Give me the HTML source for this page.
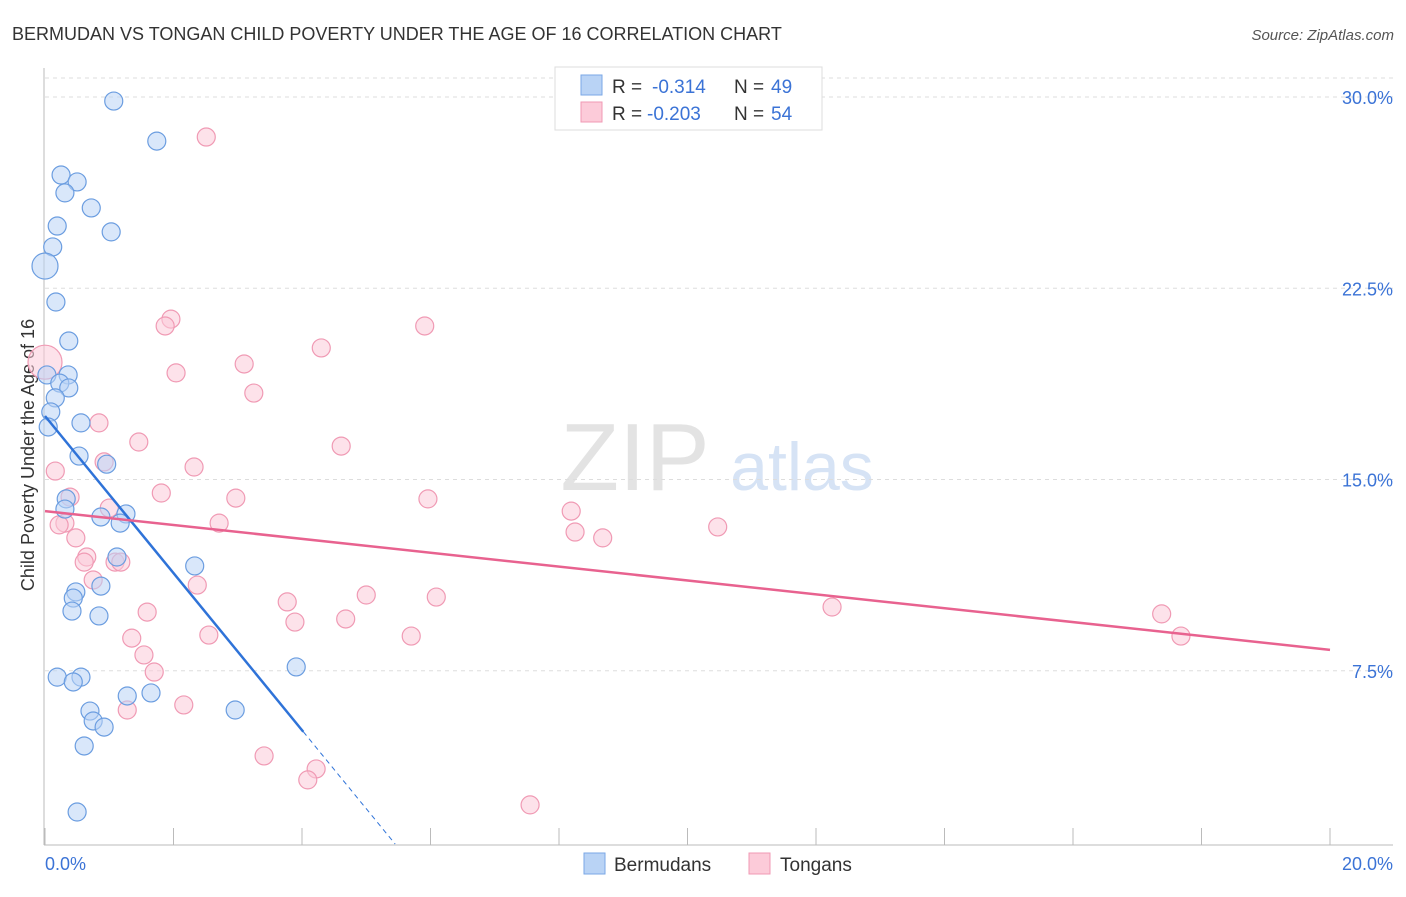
<!DOCTYPE html>
<html><head><meta charset="utf-8"><style>
body{margin:0;background:#fff;font-family:"Liberation Sans",sans-serif;}
svg text{font-family:"Liberation Sans",sans-serif;}
</style></head><body>
<svg id="chart" width="1406" height="892" xmlns="http://www.w3.org/2000/svg">
<text x="12" y="40" font-size="18" fill="#333">BERMUDAN VS TONGAN CHILD POVERTY UNDER THE AGE OF 16 CORRELATION CHART</text>
<text x="1394" y="40" font-size="15" fill="#555" text-anchor="end" font-style="italic">Source: ZipAtlas.com</text>
<text x="28" y="455" font-size="18" fill="#333" text-anchor="middle" transform="rotate(-90 28 455)" dy="6">Child Poverty Under the Age of 16</text>
<g>
<text x="635" y="490" font-size="96" fill="#e3e3e3" text-anchor="middle" font-family="Liberation Serif">ZIP</text>
<text x="802" y="490" font-size="68" fill="#d6e3f5" text-anchor="middle">atlas</text>
</g>
<g id="grid"></g>
<g id="axes"></g>
<g id="marks"></g>
<g>
<rect x="555" y="67" width="267" height="63" fill="#fff" stroke="#ddd"/>
<rect x="581" y="75" width="21" height="20" fill="#b9d3f5" stroke="#7aa7e6"/>
<rect x="581" y="102" width="21" height="20" fill="#fccbd9" stroke="#f09ab4"/>
<text x="612" y="93" font-size="19" fill="#333">R = </text><text x="652" y="93" font-size="19" fill="#3b73d6">-0.314</text>
<text x="734" y="93" font-size="19" fill="#333">N = </text><text x="771" y="93" font-size="19" fill="#3b73d6">49</text>
<text x="612" y="120" font-size="19" fill="#333">R = </text><text x="647" y="120" font-size="19" fill="#3b73d6">-0.203</text>
<text x="734" y="120" font-size="19" fill="#333">N = </text><text x="771" y="120" font-size="19" fill="#3b73d6">54</text>
</g>
<g>
<rect x="584" y="853" width="21" height="21" fill="#b9d3f5" stroke="#7aa7e6"/>
<text x="614" y="871" font-size="19" fill="#333">Bermudans</text>
<rect x="749" y="853" width="21" height="21" fill="#fccbd9" stroke="#f09ab4"/>
<text x="780" y="871" font-size="19" fill="#333">Tongans</text>
</g>
</svg>
<script>
const yTicks=[7.5,15,22.5,30];
const yTickLabels=["7.5%","15.0%","22.5%","30.0%"];
const xTickLabels=["0.0%","20.0%"];
const bermX=[1.07,1.74,0.25,0.50,0.31,0.72,0.19,1.03,0.12,0.0,0.17,0.37,0.03,0.36,0.23,0.37,0.16,0.09,0.05,0.56,0.53,0.96,0.33,0.31,0.87,1.26,1.17,1.12,2.33,0.48,0.44,0.87,0.42,0.84,3.91,0.19,0.56,0.44,1.28,1.65,0.70,2.96,0.75,0.92,0.61,0.50];
const bermY=[29.84,28.27,26.94,26.67,26.24,25.65,24.94,24.71,24.12,23.37,21.96,20.43,19.1,19.1,18.78,18.59,18.2,17.65,17.06,17.22,15.92,15.6,14.24,13.84,13.53,13.65,13.29,11.96,11.61,10.59,10.35,10.82,9.84,9.65,7.65,7.25,7.25,7.06,6.51,6.63,5.92,5.96,5.53,5.29,4.55,1.96];
const tongX=[2.51,1.96,1.87,5.91,4.30,0,3.10,2.04,3.25,0.84,1.46,4.61,0.16,0.92,2.32,1.81,2.97,5.96,0.39,8.19,1.00,0.31,0.22,2.71,10.47,8.25,8.68,0.48,0.65,0.61,1.09,1.18,0.75,2.37,5.0,6.09,1.59,3.77,12.25,17.38,3.89,4.68,1.35,2.55,5.70,17.68,1.54,1.70,2.16,1.28,3.41,4.22,4.09,7.55];
const tongY=[28.43,21.29,21.02,21.02,20.16,19.6,19.53,19.18,18.39,17.22,16.47,16.31,15.33,15.69,15.49,14.47,14.27,14.24,14.31,13.76,13.88,13.29,13.22,13.29,13.14,12.94,12.71,12.71,11.96,11.76,11.76,11.76,11.06,10.86,10.47,10.39,9.8,10.2,10.0,9.73,9.41,9.53,8.78,8.9,8.86,8.86,8.12,7.45,6.16,5.96,4.16,3.65,3.22,2.24];
const bermLine=[17.49,-3.08];
const tongLine=[13.76,-0.272];
const NS="http://www.w3.org/2000/svg";
const X=v=>45+v/20*1285, Y=v=>862-v*25.5;
function mk(tag,attrs,parent){const e=document.createElementNS(NS,tag);for(const k in attrs)e.setAttribute(k,attrs[k]);document.getElementById(parent).appendChild(e);return e;}
yTicks.forEach((t,i)=>{
 const g=mk('line',{x1:45,x2:1393,y1:Y(t),y2:Y(t),stroke:'#ddd','stroke-dasharray':'4,4'},'grid');
 
 
 const l=mk('text',{x:1393,y:Y(t)+7,'font-size':18,fill:'#3b73d6','text-anchor':'end'},'axes');l.textContent=yTickLabels[i];
 
 
});
const tg=mk('line',{x1:45,x2:1393,y1:78,y2:78,stroke:'#ddd','stroke-dasharray':'4,4'},'grid');


const ya=mk('line',{x1:44,x2:44,y1:68,y2:845,stroke:'#bbb'},'axes');


const xa=mk('line',{x1:44,x2:1393,y1:845,y2:845,stroke:'#bbb'},'axes');


for(let i=0;i<=10;i++){const t=mk('line',{x1:X(i*2),x2:X(i*2),y1:828,y2:845,stroke:'#bbb'},'axes');
 
 }
[[0,'start',45],[20,'end',1393]].forEach((a,i)=>{const l=mk('text',{x:a[2],y:870,'font-size':18,fill:'#3b73d6','text-anchor':a[1]},'axes');l.textContent=xTickLabels[i];
 
 });
function dots(xs,ys,fill,stroke,name){xs.forEach((x,i)=>{const r=(x===0)?(name==='tongan-point'?17:13):9;
 const c=mk('circle',{cx:X(x),cy:Y(ys[i]),r:r,fill:fill,'fill-opacity':0.55,stroke:stroke,'stroke-width':1.2},'marks');
 
 });}
dots(tongX,tongY,'#fccbd9','#f09ab4','tongan-point');
dots(bermX,bermY,'#b9d3f5','#6b9de0','bermudan-point');
const bx1=4.02, bx2=5.45;
const b1=mk('line',{x1:X(0),y1:Y(bermLine[0]),x2:X(bx1),y2:Y(bermLine[0]+bermLine[1]*bx1),stroke:'#2f73d8','stroke-width':2.5},'marks');


const b2=mk('line',{x1:X(bx1),y1:Y(bermLine[0]+bermLine[1]*bx1),x2:X(bx2),y2:Y(bermLine[0]+bermLine[1]*bx2),stroke:'#2f73d8','stroke-width':1,'stroke-dasharray':'5,4'},'marks');


const t1=mk('line',{x1:X(0),y1:Y(tongLine[0]),x2:X(20),y2:Y(tongLine[0]+tongLine[1]*20),stroke:'#e8628f','stroke-width':2.5},'marks');


</script>
</body></html>
